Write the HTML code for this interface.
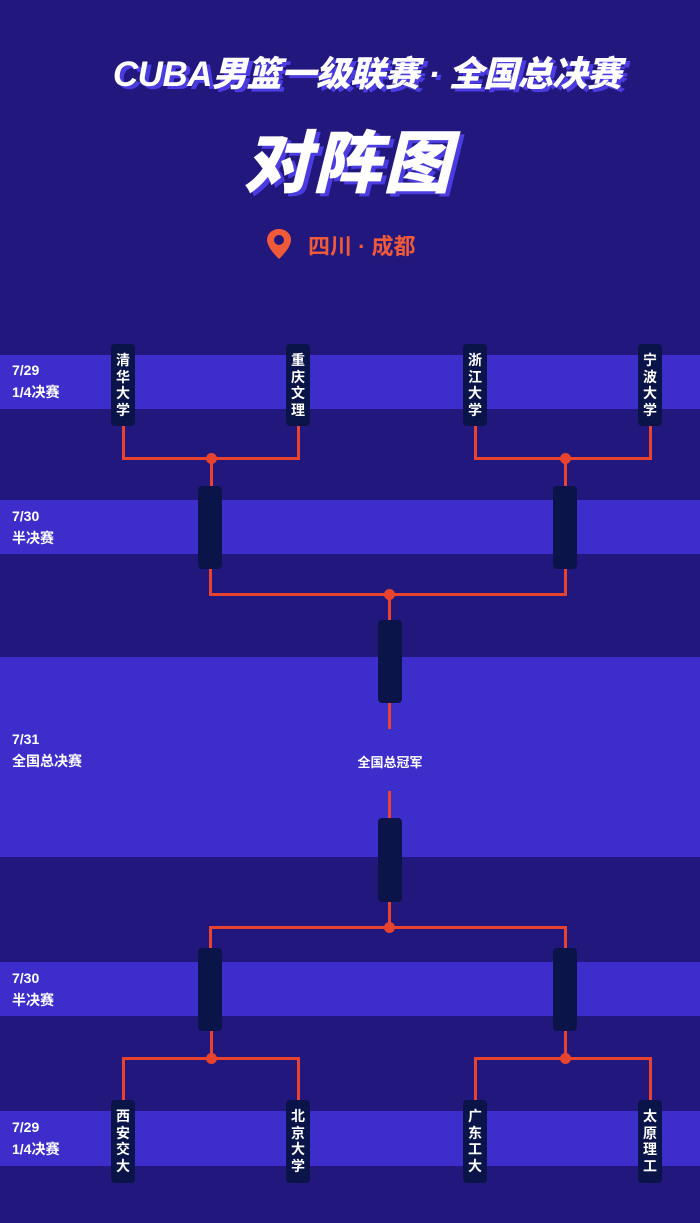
<!DOCTYPE html>
<html><head><meta charset="utf-8"><style>
body{margin:0;width:700px;height:1223px;background:#22177c;position:relative;overflow:hidden;font-family:"Liberation Sans","Noto Sans CJK SC",sans-serif;}
div{position:absolute;box-sizing:border-box;}
.band{left:0;width:700px;background:#3d2ecb;}
.box{width:24px;background:#0a1448;border-radius:4px;color:#fff;font-size:14px;font-weight:bold;line-height:16.5px;text-align:center;padding-top:8px;}
.r{background:#e8432e;}
.dot{width:11px;height:11px;border-radius:50%;background:#e8432e;}
.lbl{left:12px;color:#fff;font-size:14px;font-weight:bold;line-height:22px;}
.t{color:#fff;font-weight:900;font-style:italic;text-align:center;width:700px;left:0;text-shadow:4px 3px 0 #4a3ce0;}
</style></head><body>
<div class="t" style="top:46px;left:17px;font-size:35px;letter-spacing:-0.5px;">CUBA男篮一级联赛 · 全国总决赛</div>
<div class="t" style="top:108px;left:-2px;font-size:68px;letter-spacing:2px;">对阵图</div>
<svg style="position:absolute;left:266px;top:228px" width="26" height="32" viewBox="0 0 26 32"><path d="M13 1C6 1 1 6 1 12c0 8 12 19 12 19s12-11 12-19C25 6 20 1 13 1z" fill="#ef5a3a"/><circle cx="13" cy="12" r="5" fill="#22177c"/></svg>
<div style="left:308px;top:229px;color:#ef5a3a;font-size:22px;font-weight:bold;">四川 · 成都</div>

<div class="band" style="top:355px;height:54px"></div>
<div class="band" style="top:500px;height:54px"></div>
<div class="band" style="top:657px;height:200px"></div>
<div class="band" style="top:962px;height:54px"></div>
<div class="band" style="top:1111px;height:55px"></div>

<div class="lbl" style="top:359px">7/29<br>1/4决赛</div>
<div class="lbl" style="top:505px">7/30<br>半决赛</div>
<div class="lbl" style="top:728px">7/31<br>全国总决赛</div>
<div class="lbl" style="top:967px">7/30<br>半决赛</div>
<div class="lbl" style="top:1116px">7/29<br>1/4决赛</div>
<div style="left:330px;width:120px;top:752px;text-align:center;color:#fff;font-size:13px;font-weight:bold">全国总冠军</div>

<div class="r" style="left:122px;top:420px;width:3px;height:40px"></div>
<div class="r" style="left:297px;top:420px;width:3px;height:40px"></div>
<div class="r" style="left:122px;top:457px;width:178px;height:3px"></div>
<div class="r" style="left:210px;top:457px;width:3px;height:35px"></div>
<div class="r" style="left:474px;top:420px;width:3px;height:40px"></div>
<div class="r" style="left:649px;top:420px;width:3px;height:40px"></div>
<div class="r" style="left:474px;top:457px;width:178px;height:3px"></div>
<div class="r" style="left:564px;top:457px;width:3px;height:35px"></div>
<div class="r" style="left:209px;top:565px;width:3px;height:31px"></div>
<div class="r" style="left:564px;top:565px;width:3px;height:31px"></div>
<div class="r" style="left:209px;top:593px;width:358px;height:3px"></div>
<div class="r" style="left:388px;top:593px;width:3px;height:30px"></div>
<div class="r" style="left:388px;top:700px;width:3px;height:29px"></div>
<div class="r" style="left:388px;top:791px;width:3px;height:30px"></div>
<div class="r" style="left:388px;top:898px;width:3px;height:30px"></div>
<div class="r" style="left:209px;top:926px;width:358px;height:3px"></div>
<div class="r" style="left:209px;top:926px;width:3px;height:26px"></div>
<div class="r" style="left:564px;top:926px;width:3px;height:26px"></div>
<div class="r" style="left:210px;top:1028px;width:3px;height:31px"></div>
<div class="r" style="left:564px;top:1028px;width:3px;height:31px"></div>
<div class="r" style="left:122px;top:1057px;width:178px;height:3px"></div>
<div class="r" style="left:474px;top:1057px;width:178px;height:3px"></div>
<div class="r" style="left:122px;top:1057px;width:3px;height:46px"></div>
<div class="r" style="left:297px;top:1057px;width:3px;height:46px"></div>
<div class="r" style="left:474px;top:1057px;width:3px;height:46px"></div>
<div class="r" style="left:649px;top:1057px;width:3px;height:46px"></div>

<div class="dot" style="left:206px;top:453px"></div>
<div class="dot" style="left:560px;top:453px"></div>
<div class="dot" style="left:384px;top:589px"></div>
<div class="dot" style="left:384px;top:922px"></div>
<div class="dot" style="left:206px;top:1053px"></div>
<div class="dot" style="left:560px;top:1053px"></div>

<div class="box" style="left:111px;top:344px;height:82px">清<br>华<br>大<br>学</div>
<div class="box" style="left:286px;top:344px;height:82px">重<br>庆<br>文<br>理</div>
<div class="box" style="left:463px;top:344px;height:82px">浙<br>江<br>大<br>学</div>
<div class="box" style="left:638px;top:344px;height:82px">宁<br>波<br>大<br>学</div>
<div class="box" style="left:198px;top:486px;height:83px"></div>
<div class="box" style="left:553px;top:486px;height:83px"></div>
<div class="box" style="left:378px;top:620px;height:83px"></div>
<div class="box" style="left:378px;top:818px;height:84px"></div>
<div class="box" style="left:198px;top:948px;height:83px"></div>
<div class="box" style="left:553px;top:948px;height:83px"></div>
<div class="box" style="left:111px;top:1100px;height:83px">西<br>安<br>交<br>大</div>
<div class="box" style="left:286px;top:1100px;height:83px">北<br>京<br>大<br>学</div>
<div class="box" style="left:463px;top:1100px;height:83px">广<br>东<br>工<br>大</div>
<div class="box" style="left:638px;top:1100px;height:83px">太<br>原<br>理<br>工</div>
</body></html>
